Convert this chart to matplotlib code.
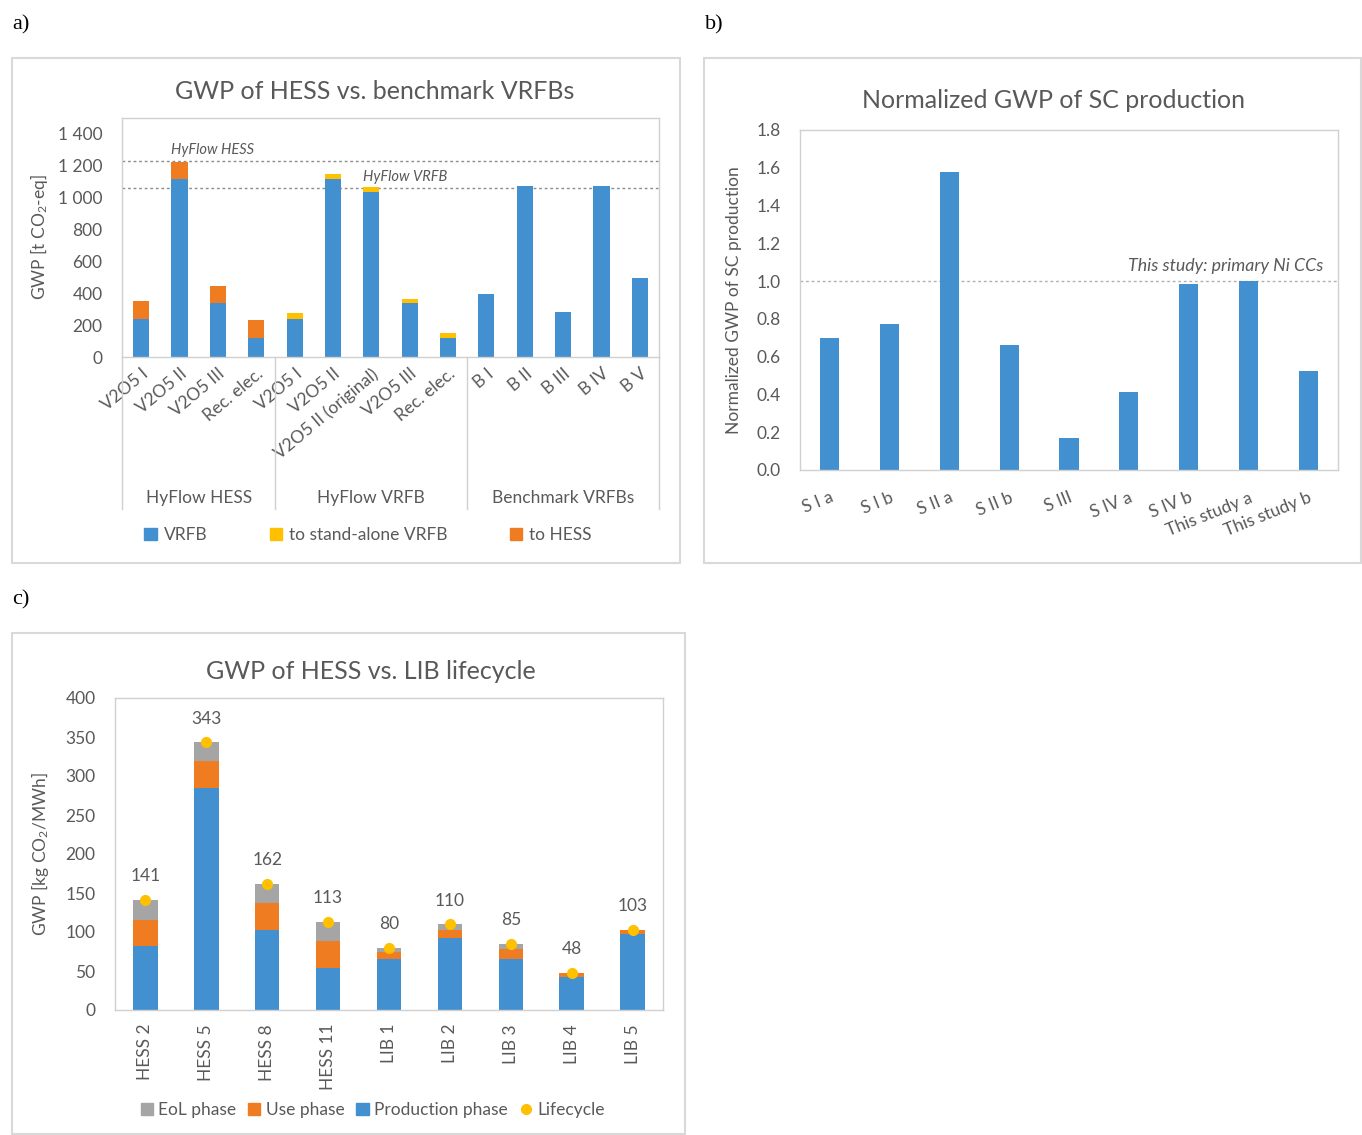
import matplotlib
matplotlib.use("Agg")
import matplotlib.pyplot as plt
from matplotlib.patches import Rectangle, Patch
from matplotlib.lines import Line2D
import numpy as np

plt.rcParams['font.family'] = ['Lato', 'DejaVu Sans']
plt.rcParams['mathtext.fontset'] = 'custom'
plt.rcParams['mathtext.rm'] = 'Lato'
plt.rcParams['mathtext.it'] = 'Lato:italic'

# ---------------- DATA ----------------
# Panel a
a_categories = ["V2O5 I", "V2O5 II", "V2O5 III", "Rec. elec.",
                "V2O5 I", "V2O5 II", "V2O5 II (original)", "V2O5 III", "Rec. elec.",
                "B I", "B II", "B III", "B IV", "B V"]
a_groups = ["HyFlow HESS", "HyFlow VRFB", "Benchmark VRFBs"]
a_group_sizes = [4, 5, 5]
a_vrfb = [240, 1112, 337, 119, 240, 1112, 1029, 337, 119, 394, 1071, 279, 1071, 494]
a_standalone = [0, 0, 0, 0, 33, 30, 31, 25, 33, 0, 0, 0, 0, 0]
a_hess = [110, 107, 105, 110, 0, 0, 0, 0, 0, 0, 0, 0, 0, 0]
a_ref_hess = 1223
a_ref_vrfb = 1056
a_yticks = [0, 200, 400, 600, 800, 1000, 1200, 1400]
a_yticklabels = ["0", "200", "400", "600", "800", "1 000", "1 200", "1 400"]

# Panel b
b_categories = ["S I a", "S I b", "S II a", "S II b", "S III", "S IV a", "S IV b",
                "This study a", "This study b"]
b_values = [0.70, 0.775, 1.58, 0.66, 0.17, 0.415, 0.985, 1.0, 0.522]
b_ref = 1.0
b_yticks = [0.0, 0.2, 0.4, 0.6, 0.8, 1.0, 1.2, 1.4, 1.6, 1.8]

# Panel c
c_categories = ["HESS 2", "HESS 5", "HESS 8", "HESS 11", "LIB 1", "LIB 2",
                "LIB 3", "LIB 4", "LIB 5"]
c_production = [82, 285, 103, 54, 65, 92, 66, 42, 97]
c_use = [34, 34, 34, 34, 10, 11, 12, 5, 5]
c_eol = [25, 24, 25, 25, 5, 7, 7, 1, 1]
c_lifecycle = [141, 343, 162, 113, 80, 110, 85, 48, 103]
c_yticks = [0, 50, 100, 150, 200, 250, 300, 350, 400]

# ---------------- STYLE ----------------
BLUE = "#4290CF"
ORANGE = "#F07C22"
YELLOW = "#FFC000"
GRAY = "#A5A5A5"
TXT = "#595959"
FRAME = "#D9D9D9"
AXC = "#D0D0D0"

W, H = 1362, 1135
fig = plt.figure(figsize=(W / 100, H / 100), dpi=100)


def fx(x):
    return x / W


def fy(y):
    return 1 - y / H


def add_axes_px(l, t, r, b):
    return fig.add_axes([fx(l), fy(b), fx(r - l), (b - t) / H])


def frame_px(l, t, r, b):
    fig.patches.append(Rectangle((fx(l), fy(b)), fx(r - l), (b - t) / H,
                                 transform=fig.transFigure, fill=False,
                                 edgecolor=FRAME, lw=1.5, zorder=0))


def style_ax(ax):
    for s in ax.spines.values():
        s.set_color(AXC)
        s.set_linewidth(1.0)
    ax.tick_params(axis='both', length=0, colors=TXT, labelsize=12.5)
    ax.tick_params(axis='y', pad=14)


# Panel frames
frame_px(12, 58, 680, 563)
frame_px(704, 58, 1361, 563)
frame_px(12, 633, 685, 1134)

# Panel letters
for txt, x, y in [("a)", 12, 25), ("b)", 705, 25), ("c)", 12, 600)]:
    fig.text(fx(x), fy(y), txt, fontsize=16, family='Liberation Serif',
             va='center', ha='left', color='black')

# ---------------- Panel a ----------------
ax = add_axes_px(122, 118, 659, 357)
style_ax(ax)
xa = np.arange(len(a_categories))
wa = 0.42
vr = np.array(a_vrfb)
sa = np.array(a_standalone)
hs = np.array(a_hess)
ax.bar(xa, vr, wa, color=BLUE, zorder=2)
ax.bar(xa, sa, wa, bottom=vr, color=YELLOW, zorder=2)
ax.bar(xa, hs, wa, bottom=vr + sa, color=ORANGE, zorder=2)
ax.set_xlim(-0.5, len(a_categories) - 0.5)
ax.set_ylim(0, 1494)
ax.set_yticks(a_yticks)
ax.set_yticklabels(a_yticklabels)
ax.set_xticks(xa)
ax.set_xticklabels(a_categories, rotation=40, ha='right', va='top',
                   rotation_mode='anchor')
ax.tick_params(axis='x', pad=6)
ax.axhline(a_ref_hess, color='#8C8C8C', ls=(0, (2, 2)), lw=1, zorder=1)
ax.axhline(a_ref_vrfb, color='#8C8C8C', ls=(0, (2, 2)), lw=1, zorder=1)
ax.text(1.85, a_ref_hess + 25, "HyFlow HESS", style='italic', fontsize=10.5,
        color=TXT, ha='center', va='bottom')
ax.text(6.88, a_ref_vrfb + 25, "HyFlow VRFB", style='italic', fontsize=10.5,
        color=TXT, ha='center', va='bottom')
ax.set_ylabel("GWP [t CO$_2$-eq]", color=TXT, fontsize=12.5, labelpad=6)
ax.set_title("GWP of HESS vs. benchmark VRFBs", color=TXT, fontsize=18, pad=14,
             x=0.471)
# group separators and labels
trans = ax.get_xaxis_transform()
bounds = np.concatenate([[0], np.cumsum(a_group_sizes)]) - 0.5
for b in bounds:
    ax.plot([b, b], [0, -0.635], transform=trans, color=AXC, lw=1, clip_on=False)
for i, g in enumerate(a_groups):
    c = (bounds[i] + bounds[i + 1]) / 2
    ax.text(c, -0.59, g, transform=trans, ha='center', va='center',
            color=TXT, fontsize=12.5)
handles = [Patch(color=BLUE, label="VRFB"),
           Patch(color=YELLOW, label="to stand-alone VRFB"),
           Patch(color=ORANGE, label="to HESS")]
leg = ax.legend(handles=handles, loc='center', bbox_to_anchor=(0.458, -0.745),
                ncol=3, frameon=False, fontsize=12.5, handlelength=0.7,
                handleheight=0.7, handletextpad=0.4, columnspacing=3.6)
for t in leg.get_texts():
    t.set_color(TXT)

# ---------------- Panel b ----------------
bx = add_axes_px(800, 130, 1338, 470)
style_ax(bx)
xb = np.arange(len(b_categories))
bx.bar(xb, b_values, 0.32, color=BLUE, zorder=2)
bx.set_xlim(-0.5, len(b_categories) - 0.5)
bx.set_ylim(0, 1.8)
bx.set_yticks(b_yticks)
bx.set_yticklabels([f"{v:.1f}" for v in b_yticks])
bx.set_xticks(xb)
bx.set_xticklabels(b_categories, rotation=22, ha='right', va='top',
                   rotation_mode='anchor')
bx.tick_params(axis='x', pad=14)
bx.axhline(b_ref, color='#B0B0B0', ls=(0, (2, 2)), lw=1, zorder=1)
bx.text(8.25, b_ref + 0.04, "This study: primary Ni CCs", style='italic',
        fontsize=12.8, color=TXT, ha='right', va='bottom')
bx.set_ylabel("Normalized GWP of SC production", color=TXT, fontsize=12.5,
              labelpad=10)
bx.set_title("Normalized GWP of SC production", color=TXT, fontsize=18, pad=16,
             x=0.472)

# ---------------- Panel c ----------------
cx = add_axes_px(115, 698, 663, 1010)
style_ax(cx)
xc = np.arange(len(c_categories))
wc = 0.4
p = np.array(c_production)
u = np.array(c_use)
e = np.array(c_eol)
cx.bar(xc, p, wc, color=BLUE, zorder=2)
cx.bar(xc, u, wc, bottom=p, color=ORANGE, zorder=2)
cx.bar(xc, e, wc, bottom=p + u, color=GRAY, zorder=2)
cx.plot(xc, c_lifecycle, 'o', color=YELLOW, markersize=7, zorder=3, ls='none')
for xi, v in zip(xc, c_lifecycle):
    cx.annotate(f"{v}", (xi, v), xytext=(0, 17), textcoords='offset points',
                ha='center', va='center', color=TXT, fontsize=12.5)
cx.set_xlim(-0.5, len(c_categories) - 0.5)
cx.set_ylim(0, 400)
cx.set_yticks(c_yticks)
cx.set_xticks(xc)
cx.set_xticklabels(c_categories, rotation=90, ha='center', va='top')
cx.tick_params(axis='x', pad=10)
cx.set_ylabel("GWP [kg CO$_2$/MWh]", color=TXT, fontsize=12.5, labelpad=10)
cx.set_title("GWP of HESS vs. LIB lifecycle", color=TXT, fontsize=18, pad=14,
             x=0.467)
handles = [Patch(color=GRAY, label="EoL phase"),
           Patch(color=ORANGE, label="Use phase"),
           Patch(color=BLUE, label="Production phase"),
           Line2D([], [], marker='o', ls='none', color=YELLOW, markersize=7,
                  label="Lifecycle")]
leg = cx.legend(handles=handles, loc='center', bbox_to_anchor=(0.47, -0.32),
                ncol=4, frameon=False, fontsize=12.5, handlelength=0.7,
                handleheight=0.7, handletextpad=0.3, columnspacing=0.7)
for t in leg.get_texts():
    t.set_color(TXT)

fig.savefig("out.png", dpi=100)
